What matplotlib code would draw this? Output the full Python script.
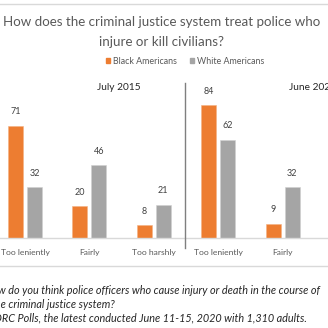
import matplotlib
matplotlib.use("Agg")
import matplotlib.pyplot as plt
from matplotlib.patches import Patch
from matplotlib.lines import Line2D
import numpy as np

W = H = 328

categories = ["Too leniently", "Fairly", "Too harshly",
              "Too leniently", "Fairly", "Too harshly"]
black_values = [71, 20, 8, 84, 9, 6]
white_values = [32, 46, 21, 62, 32, 5]
periods = ["July 2015", "June 2020"]

orange = "#ED7D31"
gray = "#A5A5A5"
text_gray = "#595959"

plt.rcParams["font.family"] = ["Lato", "DejaVu Sans"]

fig = plt.figure(figsize=(W / 100, H / 100), dpi=100)
fig.patch.set_facecolor("white")

def fx(px):
    return px / W

def fy(py):
    return 1 - py / H

# plotting area: baseline at y=238 px, 0..100 over 158 px
base_px, top_px = 238, 80
ax = fig.add_axes([0, fy(base_px), 1, (base_px - top_px) / H])
x = np.arange(len(categories))
bw = 0.233
off = 0.148
b1 = ax.bar(x - off, black_values, bw, color=orange, edgecolor="#F4B183", linewidth=0.4)
b2 = ax.bar(x + off, white_values, bw, color=gray, edgecolor="#D0D0D0", linewidth=0.4)
for rects, vals in ((b1, black_values), (b2, white_values)):
    for r, v in zip(rects, vals):
        ax.annotate(str(v), (r.get_x() + r.get_width() / 2, v),
                    xytext=(0, 7), textcoords="offset points",
                    ha="center", va="bottom", fontsize=6.5, color="#404040")

for s in ax.spines.values():
    s.set_visible(False)
ax.set_yticks([])
ax.set_xticks(x)
ax.set_xticklabels(categories, fontsize=6.1, color=text_gray)
ax.tick_params(axis="x", length=0, pad=8)
ax.axhline(0, color="#D9D9D9", linewidth=1.0, clip_on=False)
# view window: the six groups are wider than the canvas
ax.set_xlim(-25 / 64.4, (W - 25) / 64.4)
ax.set_ylim(0, 100)

# figure decorations
fig.add_artist(Line2D([0, 1], [fy(4), fy(4)], color="#D9D9D9", linewidth=1.0))
fig.add_artist(Line2D([0, 1], [fy(266), fy(266)], color="#D9D9D9", linewidth=1.0))
fig.add_artist(Line2D([fx(185), fx(185)], [fy(83), fy(248)], color="#7F7F7F", linewidth=1.0))

fig.text(fx(161.5), fy(22), "How does the criminal justice system treat police who",
         ha="center", va="center", fontsize=9.6, color=text_gray)
fig.text(fx(161.5), fy(42), "injure or kill civilians?",
         ha="center", va="center", fontsize=9.6, color=text_gray)

fig.legend(handles=[Patch(color=orange, label="Black Americans"),
                    Patch(color=gray, label="White Americans")],
           loc="center", bbox_to_anchor=(fx(185), fy(61)), ncol=2, frameon=False,
           fontsize=6.4, labelcolor=text_gray, handlelength=0.5, handleheight=0.5,
           handletextpad=0.3, columnspacing=1.5)

fig.text(fx(119), fy(88), periods[0], ha="center", va="center", fontsize=7.3, color="#262626")
fig.text(fx(289), fy(88), periods[1], ha="left", va="center", fontsize=7.3, color="#262626")

foot = dict(ha="right", va="center", fontsize=7.85, style="italic", color="#262626")
fig.text(fx(320), fy(290), "Question: How do you think police officers who cause injury or death in the course of", **foot)
fig.text(fx(115), fy(304), "their duty are treated by the criminal justice system?", **foot)
fig.text(fx(307), fy(318), "Source: AP-NORC Polls, the latest conducted June 11-15, 2020 with 1,310 adults.", **foot)

fig.savefig("out.png", dpi=100)
